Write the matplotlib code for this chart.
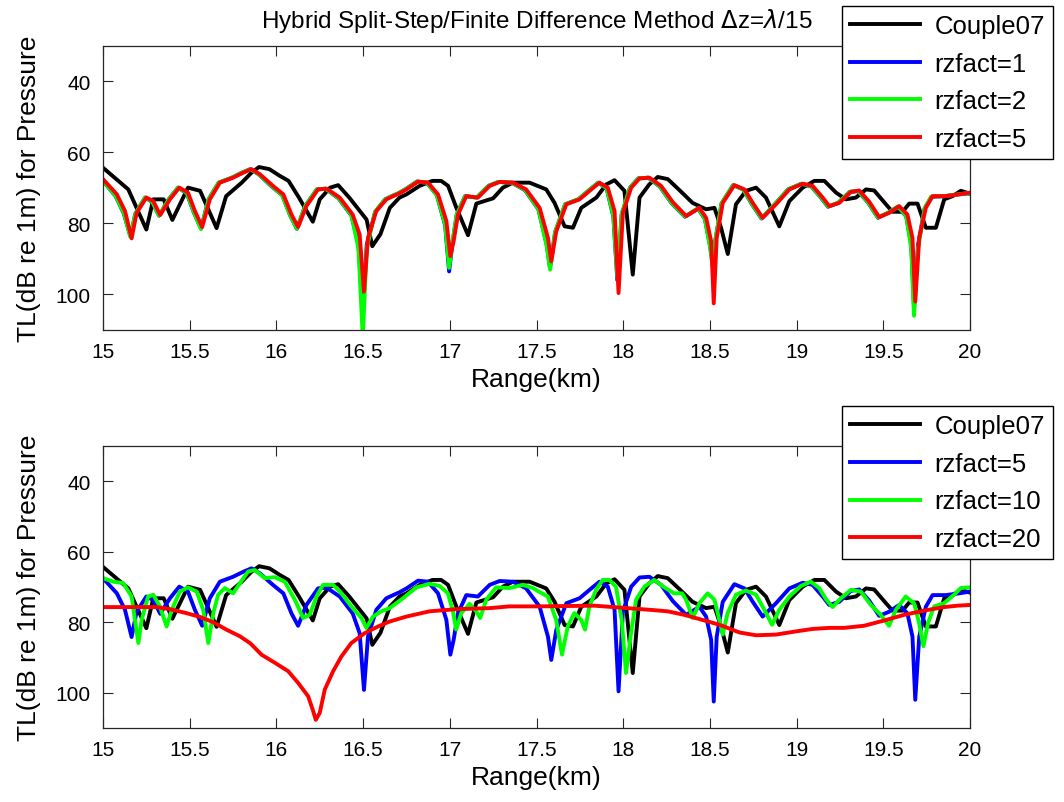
import numpy as np
import matplotlib
matplotlib.use("Agg")
import matplotlib.pyplot as plt

plt.rcParams['font.family'] = ['Liberation Sans', 'DejaVu Sans']

# ---- data (range in km, TL in dB) ----
# Couple07 reference solution (same curve in both panels)
r_couple = [15.00, 15.146, 15.25, 15.29, 15.35, 15.40, 15.49, 15.56, 15.655, 15.71,
            15.80, 15.856, 15.90, 15.96, 16.02, 16.07, 16.13, 16.21, 16.25, 16.31,
            16.356, 16.42, 16.52, 16.553, 16.60, 16.654, 16.71, 16.75, 16.826, 16.90,
            16.95, 16.99, 17.038, 17.105, 17.153, 17.25, 17.306, 17.364, 17.46, 17.556,
            17.604, 17.662, 17.71, 17.758, 17.845, 17.902, 17.95, 18.007, 18.055, 18.094,
            18.15, 18.199, 18.257, 18.324, 18.40, 18.478, 18.526, 18.564, 18.603, 18.65,
            18.708, 18.766, 18.823, 18.90, 18.958, 19.035, 19.102, 19.16, 19.227, 19.284,
            19.342, 19.40, 19.447, 19.515, 19.553, 19.611, 19.649, 19.697, 19.745, 19.803,
            19.851, 19.899, 19.947, 20.00]
tl_couple = [64.3, 70.4, 81.7, 73.2, 73.2, 79.0, 69.9, 70.8, 81.3, 72.3,
             68.5, 65.7, 64.1, 64.7, 66.6, 68.0, 72.7, 79.5, 73.2, 69.9,
             69.2, 72.7, 78.9, 86.4, 83.0, 75.6, 72.7, 71.8, 69.4, 68.0,
             68.0, 69.4, 75.6, 83.3, 74.4, 72.9, 69.9, 68.5, 68.5, 70.4,
             74.2, 80.8, 81.2, 75.6, 72.7, 69.0, 67.8, 70.8, 94.4, 72.7,
             69.0, 66.9, 67.5, 70.6, 74.2, 76.0, 75.6, 81.2, 88.6, 74.6,
             70.8, 69.9, 72.7, 80.8, 73.7, 69.9, 68.0, 68.0, 71.3, 73.2,
             72.7, 70.4, 70.7, 74.6, 76.7, 76.7, 74.4, 74.4, 81.2, 81.2,
             73.2, 72.3, 70.8, 71.6]

# rzfact=5 (red in top panel, blue in bottom panel)
r_rz5 = [15.00, 15.08, 15.127, 15.165, 15.194, 15.25, 15.29, 15.33, 15.386, 15.44,
         15.49, 15.53, 15.572, 15.616, 15.674, 15.75, 15.808, 15.856, 15.904, 15.98,
         16.04, 16.087, 16.125, 16.173, 16.24, 16.29, 16.365, 16.44, 16.48, 16.505,
         16.528, 16.576, 16.634, 16.673, 16.71, 16.75, 16.817, 16.874, 16.932, 16.98,
         17.003, 17.022, 17.047, 17.095, 17.162, 17.23, 17.287, 17.364, 17.44, 17.518,
         17.566, 17.585, 17.614, 17.672, 17.748, 17.806, 17.863, 17.911, 17.95, 17.973,
         17.998, 18.046, 18.094, 18.151, 18.218, 18.286, 18.363, 18.439, 18.478, 18.507,
         18.522, 18.539, 18.574, 18.641, 18.699, 18.747, 18.804, 18.881, 18.958, 19.035,
         19.092, 19.15, 19.188, 19.246, 19.313, 19.361, 19.419, 19.476, 19.534, 19.591,
         19.639, 19.668, 19.684, 19.707, 19.745, 19.784, 19.86, 19.937, 20.00]
tl_rz5 = [67.5, 71.8, 76.5, 84.2, 77.0, 72.7, 73.7, 77.6, 73.2, 69.9,
          71.3, 76.5, 81.0, 73.2, 68.5, 67.1, 65.7, 64.7, 66.1, 69.4,
          71.8, 77.5, 81.0, 75.1, 70.4, 70.2, 72.7, 77.5, 83.1, 99.2,
          84.1, 76.5, 73.2, 72.3, 71.5, 70.4, 68.2, 68.5, 71.8, 79.3,
          89.2, 85.0, 77.5, 72.3, 72.7, 69.4, 68.3, 68.5, 70.4, 75.6,
          84.1, 90.7, 82.2, 74.6, 73.2, 70.8, 68.5, 69.9, 76.5, 99.6,
          77.0, 69.9, 67.3, 67.1, 69.4, 74.0, 77.9, 75.6, 78.4, 85.0,
          102.5, 84.1, 74.2, 69.2, 70.4, 74.2, 78.4, 74.6, 70.4, 68.8,
          69.4, 72.7, 75.1, 74.2, 71.1, 70.7, 73.9, 78.2, 77.0, 75.1,
          77.5, 84.1, 102.0, 84.1, 75.6, 72.3, 72.3, 71.8, 71.3]

# rzfact=1 and rzfact=2 (top panel), nearly on top of rzfact=5
r_rz12 = [15.00, 15.073, 15.12, 15.158, 15.187, 15.243, 15.283, 15.323, 15.379, 15.433,
          15.483, 15.523, 15.565, 15.609, 15.667, 15.743, 15.801, 15.849, 15.897, 15.973,
          16.033, 16.08, 16.118, 16.166, 16.233, 16.283, 16.358, 16.433, 16.473, 16.498,
          16.521, 16.569, 16.627, 16.666, 16.703, 16.743, 16.81, 16.867, 16.925, 16.973,
          16.996, 17.015, 17.04, 17.088, 17.155, 17.223, 17.28, 17.357, 17.433, 17.511,
          17.559, 17.578, 17.607, 17.665, 17.741, 17.799, 17.856, 17.904, 17.943, 17.966,
          17.991, 18.039, 18.087, 18.144, 18.211, 18.279, 18.356, 18.432, 18.471, 18.50,
          18.515, 18.532, 18.567, 18.634, 18.692, 18.74, 18.797, 18.874, 18.951, 19.028,
          19.085, 19.143, 19.181, 19.239, 19.306, 19.354, 19.412, 19.469, 19.527, 19.584,
          19.632, 19.661, 19.677, 19.70, 19.738, 19.777, 19.853, 19.93, 20.00]
tl_rz1 = [68.0, 72.3, 77.2, 83.6, 77.2, 72.7, 73.9, 77.8, 73.2, 69.9,
          71.5, 76.8, 81.4, 73.2, 68.5, 67.1, 65.7, 64.7, 66.1, 69.6,
          72.0, 77.8, 81.5, 75.1, 70.4, 70.2, 72.9, 77.8, 86.0, 104.5,
          86.0, 76.8, 73.2, 72.3, 71.5, 70.4, 68.2, 68.5, 72.0, 80.5,
          93.5, 85.5, 77.5, 72.3, 72.7, 69.4, 68.3, 68.5, 70.6, 76.0,
          86.0, 92.5, 82.5, 74.6, 73.2, 70.8, 68.5, 70.1, 78.0, 96.0,
          77.5, 69.9, 67.3, 67.1, 69.6, 74.3, 78.1, 75.8, 78.8, 86.0,
          91.0, 84.5, 74.4, 69.2, 70.4, 74.4, 78.6, 74.6, 70.4, 68.8,
          69.6, 72.9, 75.3, 74.2, 71.1, 70.9, 74.1, 78.4, 77.0, 75.3,
          78.0, 86.0, 104.0, 86.0, 75.8, 72.5, 72.3, 71.8, 71.5]
tl_rz2 = [68.0, 72.2, 77.0, 83.8, 77.2, 72.7, 73.8, 77.8, 73.2, 69.9,
          71.4, 76.7, 81.6, 73.2, 68.5, 67.1, 65.7, 64.7, 66.1, 69.5,
          72.0, 77.8, 81.4, 75.1, 70.4, 70.2, 72.8, 77.7, 87.0, 112.0,
          87.0, 76.7, 73.2, 72.3, 71.5, 70.4, 68.2, 68.5, 72.0, 80.2,
          92.5, 85.3, 77.5, 72.3, 72.7, 69.4, 68.3, 68.5, 70.5, 75.9,
          86.5, 93.0, 82.4, 74.6, 73.2, 70.8, 68.5, 70.0, 77.8, 95.0,
          77.3, 69.9, 67.3, 67.1, 69.5, 74.2, 78.0, 75.7, 78.7, 86.5,
          92.0, 84.4, 74.3, 69.2, 70.4, 74.3, 78.5, 74.6, 70.4, 68.8,
          69.5, 72.8, 75.2, 74.2, 71.1, 70.8, 74.0, 78.3, 77.0, 75.2,
          77.9, 87.0, 106.0, 87.0, 75.7, 72.4, 72.3, 71.8, 71.4]

# rzfact=10 (bottom panel, green)
r_rz10 = [15.00, 15.06, 15.117, 15.165, 15.184, 15.204, 15.223, 15.26, 15.29, 15.328,
          15.367, 15.396, 15.443, 15.49, 15.54, 15.578, 15.607, 15.636, 15.664, 15.703,
          15.75, 15.79, 15.837, 15.876, 15.933, 15.991, 16.048, 16.106, 16.154, 16.192,
          16.231, 16.269, 16.327, 16.375, 16.432, 16.49, 16.519, 16.557, 16.605, 16.653,
          16.73, 16.807, 16.883, 16.941, 16.989, 17.018, 17.037, 17.066, 17.114, 17.152,
          17.175, 17.21, 17.267, 17.344, 17.421, 17.479, 17.52, 17.565, 17.613, 17.647,
          17.68, 17.718, 17.757, 17.78, 17.805, 17.843, 17.882, 17.92, 17.958, 17.991,
          18.016, 18.045, 18.074, 18.122, 18.179, 18.237, 18.294, 18.34, 18.362, 18.401,
          18.439, 18.487, 18.526, 18.554, 18.574, 18.602, 18.65, 18.708, 18.766, 18.814,
          18.858, 18.90, 18.958, 19.025, 19.082, 19.13, 19.17, 19.207, 19.255, 19.313,
          19.37, 19.428, 19.485, 19.533, 19.572, 19.629, 19.677, 19.706, 19.731, 19.758,
          19.793, 19.85, 19.908, 19.946, 20.00]
tl_rz10 = [67.5, 68.5, 68.9, 72.7, 79.3, 85.9, 79.3, 72.7, 72.2, 75.5,
           81.2, 76.5, 71.3, 70.1, 71.3, 76.5, 85.9, 77.4, 72.2, 70.3,
           71.8, 68.9, 65.6, 65.2, 67.5, 67.2, 68.5, 73.6, 78.8, 77.9,
           72.7, 69.4, 69.4, 71.8, 75.5, 78.8, 81.6, 78.4, 76.9, 76.0,
           73.2, 70.1, 69.1, 69.7, 71.8, 76.9, 82.1, 77.4, 74.8, 76.9,
           78.8, 73.6, 70.1, 70.3, 69.4, 70.3, 71.5, 72.7, 79.3, 89.2,
           81.2, 77.4, 79.3, 82.1, 75.5, 70.8, 68.0, 68.0, 69.9, 79.3,
           94.4, 83.1, 73.6, 69.9, 68.0, 70.1, 71.8, 71.8, 73.6, 78.8,
           74.6, 71.8, 73.6, 79.3, 83.5, 77.4, 72.2, 71.0, 72.2, 76.5,
           80.7, 76.5, 72.7, 69.7, 68.5, 70.3, 73.5, 75.7, 73.2, 70.8,
           71.3, 75.1, 77.9, 81.0, 76.5, 72.7, 74.6, 80.2, 86.8, 80.2,
           75.5, 74.6, 72.2, 70.3, 70.1]

# rzfact=20 (bottom panel, red)
r_rz20 = [15.00, 15.175, 15.31, 15.386, 15.48, 15.56, 15.636, 15.712, 15.79, 15.85,
          15.914, 15.991, 16.068, 16.125, 16.183, 16.212, 16.227, 16.25, 16.279, 16.327,
          16.375, 16.432, 16.509, 16.586, 16.653, 16.749, 16.883, 17.037, 17.229, 17.344,
          17.517, 17.834, 18.026, 18.16, 18.256, 18.352, 18.439, 18.554, 18.67, 18.766,
          18.881, 18.996, 19.092, 19.188, 19.274, 19.389, 19.505, 19.62, 19.735, 19.85,
          19.927, 20.00]
tl_rz20 = [75.7, 75.7, 75.7, 76.3, 77.4, 78.5, 80.0, 82.1, 84.0, 86.0,
           89.2, 91.5, 93.9, 97.2, 101.0, 105.2, 107.7, 105.7, 99.1, 93.9,
           89.7, 85.9, 83.1, 81.2, 79.8, 78.4, 76.9, 76.3, 76.0, 75.5,
           75.5, 75.3, 76.0, 76.5, 76.9, 77.9, 79.1, 80.7, 82.9, 83.7,
           83.5, 82.6, 81.9, 81.6, 81.6, 81.0, 79.5, 77.9, 76.7, 75.7,
           75.3, 75.1]

x_ticks = [15, 15.5, 16, 16.5, 17, 17.5, 18, 18.5, 19, 19.5, 20]
x_ticklabels = ['15', '15.5', '16', '16.5', '17', '17.5', '18', '18.5', '19', '19.5', '20']
y_ticks = [40, 60, 80, 100]

fig = plt.figure(figsize=(10.64, 8.03), dpi=100)
ax1 = fig.add_axes([0.0968, 0.5878, 0.8149, 0.3537])
ax2 = fig.add_axes([0.0968, 0.0922, 0.8149, 0.3511])

lw = 2.8

ax1.plot(r_couple, tl_couple, color='k', lw=lw, label='Couple07')
ax1.plot(r_rz12, tl_rz1, color='b', lw=lw, label='rzfact=1')
ax1.plot(r_rz12, tl_rz2, color=(0, 1, 0), lw=lw, label='rzfact=2')
ax1.plot(r_rz5, tl_rz5, color='r', lw=lw, label='rzfact=5')

ax2.plot(r_couple, tl_couple, color='k', lw=lw, label='Couple07')
ax2.plot(r_rz5, tl_rz5, color='b', lw=lw, label='rzfact=5')
ax2.plot(r_rz10, tl_rz10, color=(0, 1, 0), lw=lw, label='rzfact=10')
ax2.plot(r_rz20, tl_rz20, color='r', lw=lw, label='rzfact=20')

ax1.set_title('Hybrid Split-Step/Finite Difference Method $\\Delta$z=$\\lambda$/15',
              fontsize=17.5, pad=14)

for ax, leg_top in [(ax1, 0.9913), (ax2, 0.4931)]:
    ax.set_xlim(15, 20)
    ax.set_ylim(110, 30)
    ax.set_xticks(x_ticks)
    ax.set_xticklabels(x_ticklabels)
    ax.set_yticks(y_ticks)
    ax.tick_params(direction='in', top=True, right=True, length=7, width=0.8,
                   labelsize=15, color='#262626', pad=9)
    for s in ax.spines.values():
        s.set_color('#262626')
        s.set_linewidth(0.9)
    ax.set_xlabel('Range(km)', fontsize=19, labelpad=4)
    ax.set_ylabel('TL(dB re 1m) for Pressure', fontsize=19, labelpad=10)
    leg = ax.legend(loc='upper left', bbox_to_anchor=(0.7914, leg_top),
                    bbox_transform=fig.transFigure, fontsize=18.5, frameon=True,
                    fancybox=False, framealpha=1, edgecolor='k', borderaxespad=0,
                    handlelength=2.7, handletextpad=0.58, borderpad=0.32,
                    labelspacing=0.53)
    leg.get_frame().set_linewidth(1.0)
    leg.set_zorder(10)

fig.savefig('out.png', dpi=100)
